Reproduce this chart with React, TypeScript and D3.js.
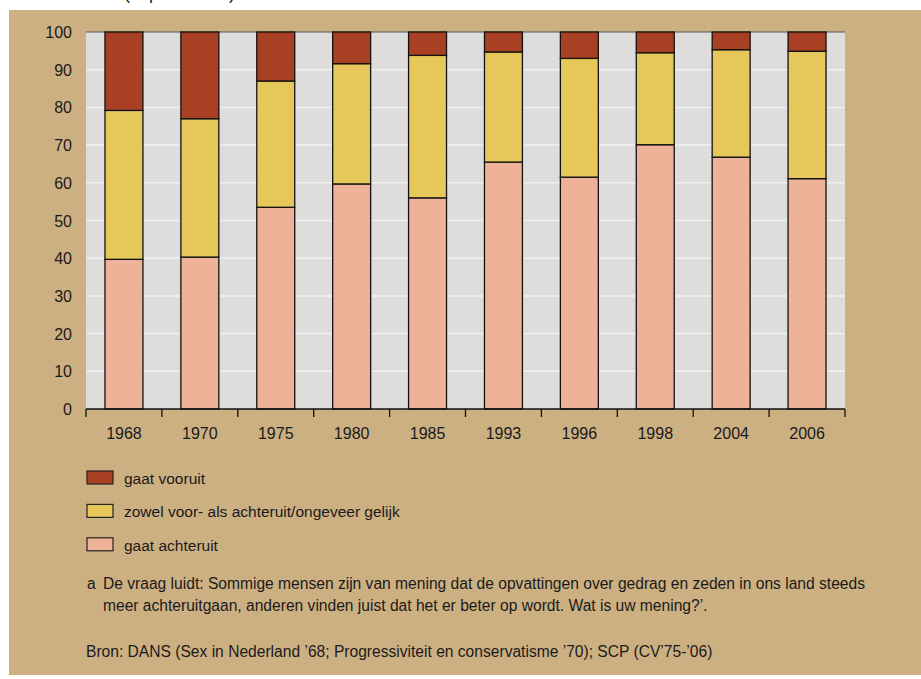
import React, { useRef, useEffect } from 'react';
import * as d3 from 'd3';

const YEARS = ["1968", "1970", "1975", "1980", "1985", "1993", "1996", "1998", "2004", "2006"];
const ACHTERUIT = [39.7, 40.3, 53.5, 59.7, 56.0, 65.5, 61.5, 70.1, 66.8, 61.1];
const GELIJK = [39.5, 36.7, 33.5, 31.9, 37.8, 29.2, 31.5, 24.4, 28.5, 33.8];
const VOORUIT = [20.8, 23.0, 13.0, 8.4, 6.2, 5.3, 7.0, 5.5, 4.7, 5.1];
const Y_TICKS = [0, 10, 20, 30, 40, 50, 60, 70, 80, 90, 100];

const SERIES = [
    { key: "achteruit", label: "gaat achteruit", color: "#eeb298", values: ACHTERUIT },
    { key: "gelijk", label: "zowel voor- als achteruit/ongeveer gelijk", color: "#e6c85a", values: GELIJK },
    { key: "vooruit", label: "gaat vooruit", color: "#a94023", values: VOORUIT },
];

const FONT = "'Liberation Sans', Arial, sans-serif";

function App() {
    const svgRef = useRef<SVGSVGElement>(null);
    const width = 921;
    const height = 679;
    const plot = { left: 86, right: 845, top: 32, bottom: 409 };

    useEffect(() => {
        const svg = d3.select(svgRef.current);
        svg.selectAll("*").remove();
        svg.style("font-family", FONT);

        // page frame
        svg.append("rect").attr("x", 0).attr("y", 0).attr("width", width).attr("height", height).attr("fill", "#ffffff");
        svg.append("rect").attr("x", 9).attr("y", 10).attr("width", width - 9).attr("height", 665).attr("fill", "#cdb082");

        // title, cut off at the top edge as in the source
        svg.append("text").attr("x", 124).attr("y", -1).attr("font-size", 18).attr("fill", "#222")
            .text("(in procenten)");

        const x = d3.scaleBand().domain(YEARS).range([plot.left, plot.right]).paddingInner(0.5).paddingOuter(0.25);
        const y = d3.scaleLinear().domain([0, 100]).range([plot.bottom, plot.top]);

        svg.append("rect").attr("x", plot.left).attr("y", plot.top)
            .attr("width", plot.right - plot.left).attr("height", plot.bottom - plot.top).attr("fill", "#dedddc");

        // gridlines
        svg.append("g").selectAll("line").data(Y_TICKS.filter(t => t > 0 && t < 100)).enter().append("line")
            .attr("x1", plot.left).attr("x2", plot.right)
            .attr("y1", d => y(d)).attr("y2", d => y(d))
            .attr("stroke", "#f0f0ef").attr("stroke-width", 1.5);
        svg.append("line").attr("x1", plot.left).attr("x2", plot.right)
            .attr("y1", y(100)).attr("y2", y(100)).attr("stroke", "#555").attr("stroke-width", 1);

        // stacked bars
        const rows = YEARS.map((yr, i) => ({ year: yr, achteruit: ACHTERUIT[i], gelijk: GELIJK[i], vooruit: VOORUIT[i] }));
        const stacked = d3.stack<any>().keys(SERIES.map(s => s.key))(rows);

        stacked.forEach((layer, li) => {
            svg.append("g").selectAll("rect").data(layer).enter().append("rect")
                .attr("x", d => x(d.data.year)!)
                .attr("width", x.bandwidth())
                .attr("y", d => y(d[1]))
                .attr("height", d => y(d[0]) - y(d[1]))
                .attr("fill", SERIES[li].color)
                .attr("stroke", "#111")
                .attr("stroke-width", 1.3);
        });

        // x axis
        const step = x.step();
        svg.append("line").attr("x1", plot.left).attr("x2", plot.right)
            .attr("y1", plot.bottom).attr("y2", plot.bottom).attr("stroke", "#111").attr("stroke-width", 1.3);
        svg.append("g").selectAll("line").data(d3.range(YEARS.length + 1)).enter().append("line")
            .attr("x1", i => plot.left + i * step).attr("x2", i => plot.left + i * step)
            .attr("y1", plot.bottom).attr("y2", plot.bottom + 8)
            .attr("stroke", "#111").attr("stroke-width", 1.3);
        svg.append("g").selectAll("text").data(YEARS).enter().append("text")
            .attr("x", d => x(d)! + x.bandwidth() / 2)
            .attr("y", 439)
            .attr("text-anchor", "middle")
            .attr("font-size", 16)
            .attr("fill", "#1a1a1a")
            .text(d => d);

        // y axis labels
        svg.append("g").selectAll("text").data(Y_TICKS).enter().append("text")
            .attr("x", 72)
            .attr("y", d => y(d) + 6)
            .attr("text-anchor", "end")
            .attr("font-size", 16)
            .attr("fill", "#1a1a1a")
            .text(d => d);

        // legend
        const legend = [SERIES[2], SERIES[1], SERIES[0]];
        const lg = svg.append("g");
        legend.forEach((s, i) => {
            const ly = 471 + i * 33.4;
            lg.append("rect").attr("x", 87).attr("y", ly).attr("width", 26).attr("height", 13)
                .attr("fill", s.color).attr("stroke", "#222").attr("stroke-width", 1.2);
            lg.append("text").attr("x", 124).attr("y", ly + 13).attr("font-size", 15.5).attr("fill", "#1a1a1a")
                .text(s.label);
        });

        // footnotes
        const notes = svg.append("g").attr("font-size", 15.6).attr("fill", "#1a1a1a");
        notes.append("text").attr("x", 87).attr("y", 589).text("a");
        notes.append("text").attr("x", 103).attr("y", 589)
            .text("De vraag luidt: Sommige mensen zijn van mening dat de opvattingen over gedrag en zeden in ons land steeds");
        notes.append("text").attr("x", 103).attr("y", 611)
            .text("meer achteruitgaan, anderen vinden juist dat het er beter op wordt. Wat is uw mening?\u2019.");
        notes.append("text").attr("x", 86).attr("y", 657)
            .text("Bron: DANS (Sex in Nederland \u201968; Progressiviteit en conservatisme \u201970); SCP (CV\u201975-\u201906)");
    }, []);

    return (
        <svg
            ref={svgRef}
            width={width}
            height={height}
            style={{ position: 'absolute', left: 0, top: 0, display: 'block' }}
        />
    );
}

export default App;
